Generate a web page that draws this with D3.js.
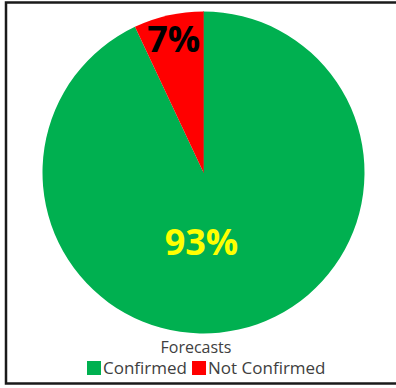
<!DOCTYPE html>
<html>
<head>
<meta charset="utf-8">
<script src="https://cdn.jsdelivr.net/npm/d3@7"></script>
<style>
  html, body { margin: 0; padding: 0; background: #fff; }
  svg { display: block; }
</style>
</head>
<body>
<svg id="chart" width="396" height="388"></svg>
<script>
// Forecast status shares (percent)
const categories = ["Confirmed", "Not Confirmed"];
const values = [93, 7];
const colors = ["#00b050", "#ff0000"];
const labelColors = ["#ffff00", "#000000"];
const legendTitle = "Forecasts";

const svg = d3.select("#chart");

// chart frame
svg.append("rect")
  .attr("x", 6).attr("y", 2.5)
  .attr("width", 420).attr("height", 381)
  .attr("fill", "#fff")
  .attr("stroke", "#1a1a1a")
  .attr("stroke-width", 2.5);

const cx = 203.5, cy = 172.5, r = 161;

const data = categories.map((c, i) => ({ category: c, value: values[i], color: colors[i], labelColor: labelColors[i] }));

const pie = d3.pie().value(d => d.value).sort(null);
const arcs = pie(data);
const arc = d3.arc().innerRadius(0).outerRadius(r);

const g = svg.append("g").attr("transform", `translate(${cx},${cy})`);

g.selectAll("path.slice")
  .data(arcs)
  .enter().append("path")
  .attr("class", "slice")
  .attr("d", arc)
  .attr("fill", d => d.data.color);

// thin seam along the start of the first slice
g.append("line")
  .attr("x1", 0).attr("y1", 0)
  .attr("x2", 0).attr("y2", -r)
  .attr("stroke", "#b83a2a")
  .attr("stroke-width", 1);

// percentage labels
const total = d3.sum(values);
const labelRadius = [r * 0.5, r * 0.85];
g.selectAll("text.pct")
  .data(arcs)
  .enter().append("text")
  .attr("class", "pct")
  .attr("transform", (d, i) => {
    const a = (d.startAngle + d.endAngle) / 2;
    const rr = labelRadius[i];
    const x = i === 0 ? -2 : Math.sin(a) * rr;
    const y = i === 0 ? 70 : -Math.cos(a) * rr;
    return `translate(${x},${y})`;
  })
  .attr("text-anchor", "middle")
  .attr("dy", "0.36em")
  .attr("font-family", "'Open Sans', 'Liberation Sans', sans-serif")
  .attr("font-weight", "bold")
  .attr("font-size", 36)
  .attr("fill", d => d.data.labelColor)
  .text(d => Math.round(d.data.value / total * 100) + "%");

// legend
svg.append("text")
  .attr("x", 196).attr("y", 353)
  .attr("text-anchor", "middle")
  .attr("font-family", "'Open Sans', 'Liberation Sans', sans-serif")
  .attr("font-size", 16)
  .attr("fill", "#404040")
  .text(legendTitle);

const legend = svg.append("g").attr("transform", "translate(87,374)");
let xoff = 0;
data.forEach(d => {
  const item = legend.append("g").attr("transform", `translate(${xoff},0)`);
  item.append("rect")
    .attr("x", 0).attr("y", -13)
    .attr("width", 14).attr("height", 14)
    .attr("fill", d.color);
  const t = item.append("text")
    .attr("x", 16).attr("y", 0)
    .attr("font-family", "'Open Sans', 'Liberation Sans', sans-serif")
    .attr("font-size", 17)
    .attr("fill", "#404040")
    .text(d.category);
  xoff += 16 + t.node().getComputedTextLength() + 5;
});
</script>
</body>
</html>
